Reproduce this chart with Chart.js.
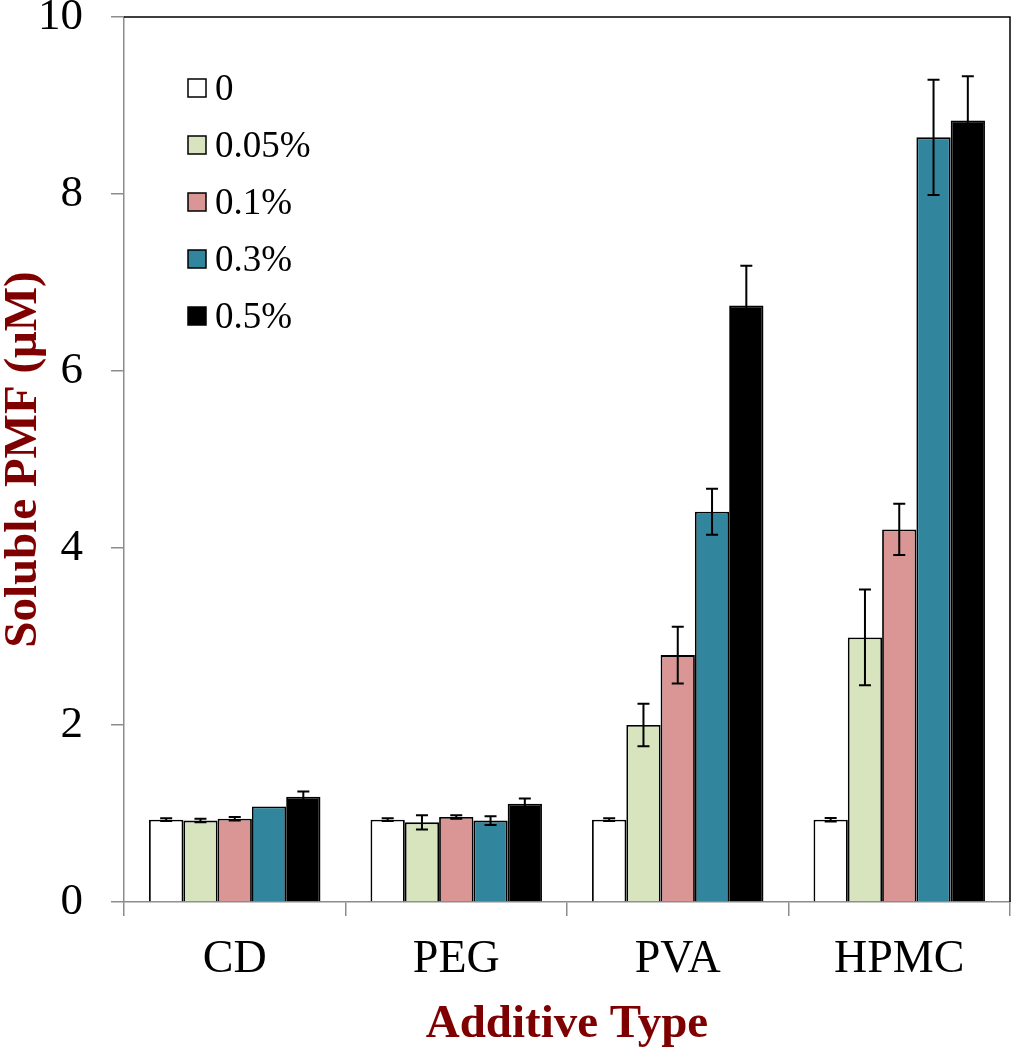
<!DOCTYPE html>
<html>
<head>
<meta charset="utf-8">
<script src="https://cdn.jsdelivr.net/npm/chart.js@4.4.0/dist/chart.umd.min.js"></script>
<style>
  html, body { margin: 0; padding: 0; background: #fff; }
  #wrap { width: 1011px; height: 1050px; }
</style>
</head>
<body>
<div id="wrap"><canvas id="chart" width="1011" height="1050"></canvas></div>
<script>
// data
const categories = ['CD', 'PEG', 'PVA', 'HPMC'];
const seriesLabels = ['0', '0.05%', '0.1%', '0.3%', '0.5%'];
const conc0 = [0.93, 0.93, 0.93, 0.93];
const conc005 = [0.92, 0.90, 2.00, 2.99];
const conc01 = [0.94, 0.96, 2.79, 4.21];
const conc03 = [1.08, 0.92, 4.41, 8.64];
const conc05 = [1.19, 1.11, 6.74, 8.83];
const err0 = [0.015, 0.015, 0.015, 0.02];
const err005 = [0.02, 0.08, 0.24, 0.54];
const err01 = [0.02, 0.02, 0.32, 0.29];
const err03 = [0, 0.05, 0.26, 0.65];
const err05 = [0.06, 0.06, 0.45, 0.50];
const yTicks = [0, 2, 4, 6, 8, 10];

const colors = ['#ffffff', '#d7e4bd', '#da9694', '#31859c', '#000000'];
const values = [conc0, conc005, conc01, conc03, conc05];
const errors = [err0, err005, err01, err03, err05];

const serif = "'Liberation Serif', 'Times New Roman', serif";
const darkRed = '#7f0000';
const axisGray = '#8c8c8c';

// error bars drawn from each bar's position on the scale
const errorBars = {
  id: 'errorBars',
  afterDatasetsDraw(chart) {
    const ctx = chart.ctx;
    const y = chart.scales.y;
    ctx.save();
    ctx.strokeStyle = '#000';
    ctx.lineWidth = 2;
    chart.data.datasets.forEach((ds, di) => {
      const meta = chart.getDatasetMeta(di);
      meta.data.forEach((bar, i) => {
        const e = ds.errors[i];
        if (!e) return;
        const v = ds.data[i];
        const top = y.getPixelForValue(v + e);
        const bot = y.getPixelForValue(v - e);
        const cap = 6;
        ctx.beginPath();
        ctx.moveTo(bar.x, top); ctx.lineTo(bar.x, bot);
        ctx.moveTo(bar.x - cap, top); ctx.lineTo(bar.x + cap, top);
        ctx.moveTo(bar.x - cap, bot); ctx.lineTo(bar.x + cap, bot);
        ctx.stroke();
      });
    });
    ctx.restore();
  }
};

// black frame on top and right, legend inside the plot
const frameAndLegend = {
  id: 'frameAndLegend',
  afterDraw(chart) {
    const ctx = chart.ctx;
    const a = chart.chartArea;
    ctx.save();
    ctx.strokeStyle = '#000';
    ctx.lineWidth = 1.5;
    ctx.beginPath();
    ctx.moveTo(a.left, a.top);
    ctx.lineTo(a.right, a.top);
    ctx.lineTo(a.right, a.bottom);
    ctx.stroke();

    const x0 = a.left + 64;
    const y0 = a.top + 71;
    const step = 57;
    ctx.font = '37px ' + serif;
    ctx.textBaseline = 'alphabetic';
    chart.data.datasets.forEach((ds, i) => {
      const cy = y0 + i * step;
      ctx.fillStyle = ds.backgroundColor;
      ctx.fillRect(x0, cy - 9, 18, 18);
      ctx.lineWidth = 1.5;
      ctx.strokeStyle = '#000';
      ctx.strokeRect(x0, cy - 9, 18, 18);
      ctx.fillStyle = '#000';
      ctx.fillText(ds.label, x0 + 27, cy + 12);
    });
    ctx.restore();
  }
};

new Chart(document.getElementById('chart'), {
  type: 'bar',
  data: {
    labels: categories,
    datasets: seriesLabels.map((label, i) => ({
      label: label,
      data: values[i],
      errors: errors[i],
      backgroundColor: colors[i],
      borderColor: '#000',
      borderWidth: 1.8,
      borderSkipped: 'bottom',
      categoryPercentage: 0.774,
      barPercentage: 1.0
    }))
  },
  options: {
    responsive: false,
    animation: false,
    devicePixelRatio: 1,
    layout: { padding: { top: 17, right: 1, left: 0, bottom: 0 } },
    plugins: {
      legend: { display: false },
      tooltip: { enabled: false }
    },
    scales: {
      x: {
        grid: {
          offset: true,
          drawOnChartArea: false,
          drawTicks: true,
          tickLength: 14,
          color: axisGray,
          lineWidth: 1.5
        },
        border: { color: axisGray, width: 1.5 },
        ticks: {
          color: '#000',
          font: { family: serif, size: 46 },
          padding: 16
        },
        title: {
          display: true,
          text: 'Additive Type',
          color: darkRed,
          font: { family: serif, size: 47, weight: 'bold', lineHeight: 1 },
          padding: { top: 0, bottom: 2 }
        },
        afterFit(scale) {
          scale.height = 148;
          scale.paddingLeft = 0;
          scale.paddingRight = 0;
        }
      },
      y: {
        min: 0,
        max: 10,
        afterBuildTicks(scale) { scale.ticks = yTicks.map(v => ({ value: v })); },
        grid: {
          drawOnChartArea: false,
          drawTicks: true,
          tickLength: 13,
          color: axisGray,
          lineWidth: 1.5
        },
        border: { color: axisGray, width: 1.5 },
        ticks: {
          color: '#000',
          font: { family: serif, size: 45 },
          padding: 28
        },
        title: {
          display: true,
          text: 'Soluble PMF (\u03bcM)',
          color: darkRed,
          font: { family: serif, size: 47, weight: 'bold', lineHeight: 1 },
          padding: { top: 0, bottom: 0 }
        },
        afterFit(scale) {
          scale.width = 124;
          scale.paddingTop = 0;
          scale.paddingBottom = 0;
        }
      }
    }
  },
  plugins: [errorBars, frameAndLegend]
});
</script>
</body>
</html>
